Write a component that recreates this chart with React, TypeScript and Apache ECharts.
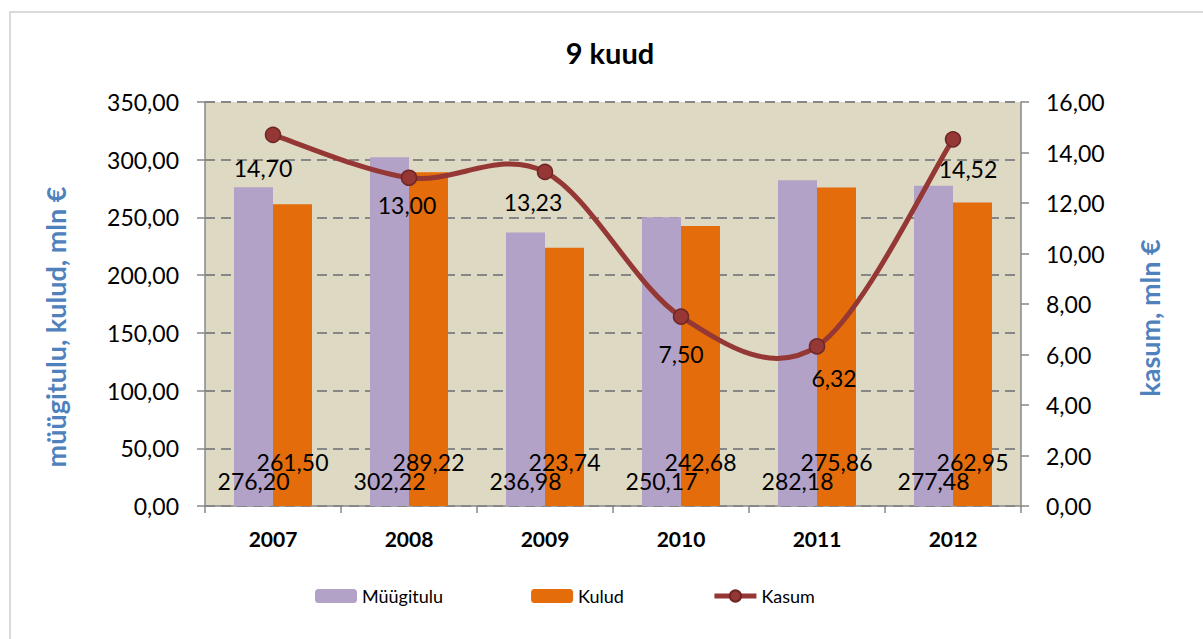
import React, { useEffect, useRef } from "react";
import * as echarts from "echarts";

const years = ["2007", "2008", "2009", "2010", "2011", "2012"];
const myygitulu = [276.2, 302.22, 236.98, 250.17, 282.18, 277.48];
const kulud = [261.5, 289.22, 223.74, 242.68, 275.86, 262.95];
const kasum = [14.7, 13.0, 13.23, 7.5, 6.32, 14.52];

// label offsets (style only) for the Kasum labels, relative to the marker centre
const kasumLabelOffsets = [
  [-10, 33],
  [-2, 27],
  [-12, 30],
  [0, 37],
  [17, 32],
  [15, 30],
];

const FONT = "Lato, 'Noto Sans', sans-serif";
const fmt = (v: number) => v.toFixed(2).replace(".", ",");

export default function App() {
  const ref = useRef<HTMLDivElement>(null);

  useEffect(() => {
    if (!ref.current) return;
    const chart = echarts.init(ref.current, null, { renderer: "svg" });
    const axisGray = "#878787";

    const option: any = {
      animation: false,
      backgroundColor: "#ffffff",
      textStyle: { fontFamily: FONT },
      grid: {
        left: 205,
        right: 182,
        top: 102,
        bottom: 133,
        show: true,
        backgroundColor: "#DDD9C3",
        borderWidth: 0,
      },
      legend: {
        left: 310,
        top: 582,
        padding: 5,
        itemWidth: 42,
        itemHeight: 14,
        itemGap: 88,
        textStyle: { fontSize: 18, color: "#000", fontFamily: FONT },
        data: [
          { name: "Müügitulu" },
          { name: "Kulud" },
          {
            name: "Kasum",
            lineStyle: { width: 5, opacity: 1, color: "#953735" },
          },
        ],
      },
      xAxis: {
        type: "category",
        data: years,
        axisLine: { lineStyle: { color: axisGray, width: 1.5 } },
        axisTick: { show: true, length: 7, lineStyle: { color: axisGray, width: 1.5 } },
        axisLabel: {
          color: "#000",
          fontSize: 21,
          fontWeight: "bold",
          fontFamily: FONT,
          margin: 22,
        },
        splitLine: { show: false },
      },
      yAxis: [
        {
          type: "value",
          min: 0,
          max: 350,
          interval: 50,
          axisLine: { show: true, lineStyle: { color: axisGray, width: 1.5 } },
          axisTick: { show: true, length: 8, lineStyle: { color: axisGray, width: 1.5 } },
          axisLabel: {
            color: "#000",
            fontSize: 23,
            fontFamily: FONT,
            margin: 26,
            formatter: (v: number) => fmt(v),
          },
          splitLine: {
            show: true,
            lineStyle: { color: axisGray, width: 2, type: [10, 6] },
          },
        },
        {
          type: "value",
          min: 0,
          max: 16,
          interval: 2,
          position: "right",
          axisLine: { show: true, lineStyle: { color: axisGray, width: 1.5 } },
          axisTick: { show: true, length: 8, lineStyle: { color: axisGray, width: 1.5 } },
          axisLabel: {
            color: "#000",
            fontSize: 23,
            fontFamily: FONT,
            margin: 25,
            formatter: (v: number) => fmt(v),
          },
          splitLine: { show: false },
        },
      ],
      graphic: [
        {
          type: "rect",
          shape: { x: 10, y: 12, width: 1400, height: 800 },
          style: { fill: "none", stroke: "#D9D9D9", lineWidth: 2 },
          silent: true,
          z: -10,
        },
        {
          type: "text",
          x: 610,
          y: 52,
          style: {
            text: "9 kuud",
            fill: "#000",
            font: `bold 29px ${FONT}`,
            textAlign: "center",
            textVerticalAlign: "middle",
          },
        },
        {
          type: "text",
          x: 55,
          y: 327,
          rotation: Math.PI / 2,
          style: {
            text: "müügitulu, kulud, mln €",
            fill: "#4F81BD",
            font: `bold 27px ${FONT}`,
            textAlign: "center",
            textVerticalAlign: "middle",
          },
        },
        {
          type: "text",
          x: 1149,
          y: 318,
          rotation: Math.PI / 2,
          style: {
            text: "kasum, mln €",
            fill: "#4F81BD",
            font: `bold 27px ${FONT}`,
            textAlign: "center",
            textVerticalAlign: "middle",
          },
        },
      ],
      series: [
        {
          name: "Müügitulu",
          type: "bar",
          data: myygitulu,
          barWidth: 39,
          barGap: "0%",
          itemStyle: { color: "#B3A2C7" },
          z: 2,
          label: {
            show: true,
            position: "insideBottom",
            distance: 14,
            color: "#000",
            fontSize: 23,
            fontFamily: FONT,
            formatter: (p: any) => fmt(p.value),
          },
        },
        {
          name: "Kulud",
          type: "bar",
          data: kulud,
          barWidth: 39,
          barGap: "0%",
          itemStyle: { color: "#E46C0A" },
          z: 2,
          label: {
            show: true,
            position: "insideBottom",
            distance: 33,
            color: "#000",
            fontSize: 23,
            fontFamily: FONT,
            formatter: (p: any) => fmt(p.value),
          },
        },
        {
          name: "KasumCurve",
          type: "custom",
          yAxisIndex: 1,
          silent: true,
          z: 3,
          data: kasum.map((v, i) => [i, v]),
          renderItem: (params: any, api: any) => {
            const i = params.dataIndex;
            const n = kasum.length;
            if (i >= n - 1) return null;
            const P = (k: number) => {
              const kk = Math.max(0, Math.min(n - 1, k));
              return api.coord([kk, kasum[kk]]);
            };
            const p0 = P(i - 1);
            const p1 = P(i);
            const p2 = P(i + 1);
            const p3 = P(i + 2);
            const c1 = [p1[0] + (p2[0] - p0[0]) / 6, p1[1] + (p2[1] - p0[1]) / 6];
            const c2 = [p2[0] - (p3[0] - p1[0]) / 6, p2[1] - (p3[1] - p1[1]) / 6];
            return {
              type: "bezierCurve",
              shape: {
                x1: p1[0],
                y1: p1[1],
                x2: p2[0],
                y2: p2[1],
                cpx1: c1[0],
                cpy1: c1[1],
                cpx2: c2[0],
                cpy2: c2[1],
              },
              style: { stroke: "#953735", lineWidth: 5, fill: null, lineCap: "round" },
            };
          },
        },
        {
          name: "Kasum",
          type: "line",
          yAxisIndex: 1,
          z: 4,
          symbol: "circle",
          symbolSize: 15,
          itemStyle: { color: "#953735", borderColor: "#6E2624", borderWidth: 1.5 },
          lineStyle: { width: 0, opacity: 0, color: "#953735" },
          data: kasum.map((v, i) => ({
            value: v,
            label: { offset: kasumLabelOffsets[i] },
          })),
          label: {
            show: true,
            position: "inside",
            color: "#000",
            fontSize: 23,
            fontFamily: FONT,
            formatter: (p: any) => fmt(p.value),
          },
        },
      ],
    };

    chart.setOption(option);
    return () => chart.dispose();
  }, []);

  return (
    <div
      ref={ref}
      style={{ position: "fixed", left: 0, top: 0, width: 1203, height: 639 }}
    />
  );
}
